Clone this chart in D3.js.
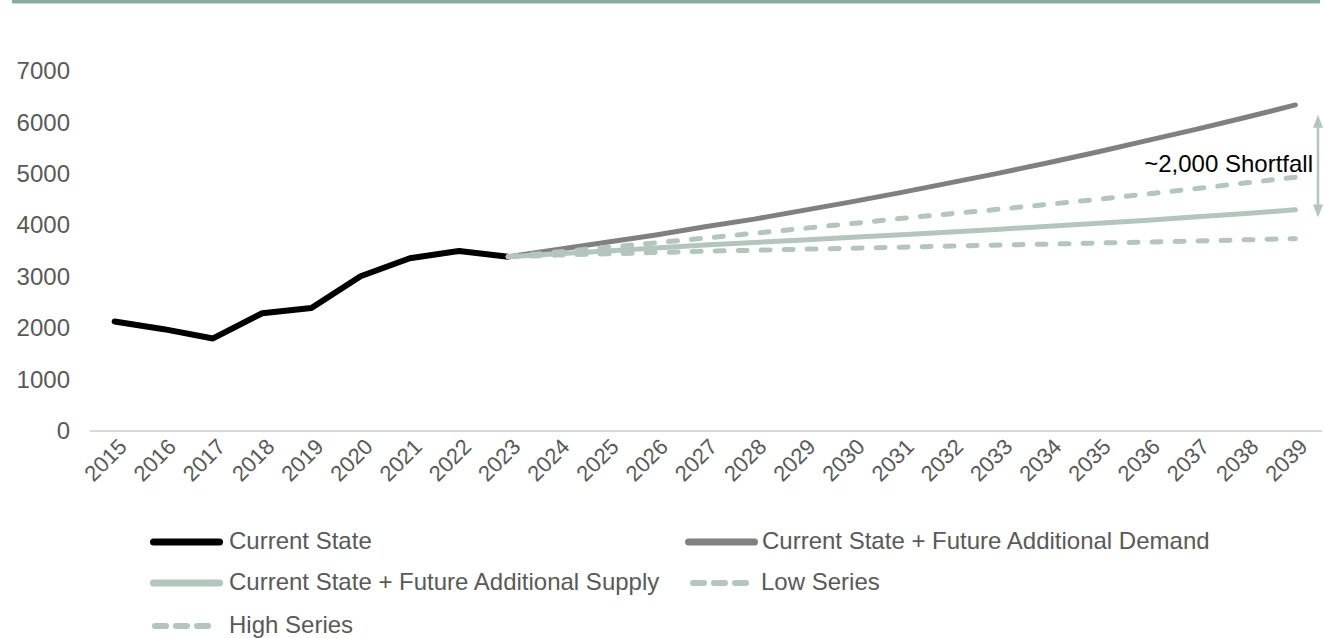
<!DOCTYPE html>
<html><head><meta charset="utf-8">
<script src="https://cdn.jsdelivr.net/npm/d3@7"></script>
<style>
html,body{margin:0;padding:0;background:#fff;}
svg{display:block;font-family:"Liberation Sans",Arial,sans-serif;}
</style></head>
<body><svg id="c" width="1324" height="638"></svg>
<script>
const years = d3.range(2015, 2040).map(String);
const yTicks = [0,1000,2000,3000,4000,5000,6000,7000];
const currentYears = ["2015","2016","2017","2018","2019","2020","2021","2022","2023"];
const currentState = [2130,1980,1800,2290,2390,3010,3360,3500,3390];
const projYears = ["2023","2024","2025","2026","2027","2028","2029","2030","2031","2032","2033","2034","2035","2036","2037","2038","2039"];
const demand = [3390,3530,3670,3810,3970,4120,4290,4460,4640,4830,5020,5220,5430,5650,5870,6100,6340];
const supply = [3390,3445,3500,3560,3615,3665,3715,3765,3815,3870,3925,3980,4040,4100,4165,4230,4300];
const highSeries = [3390,3480,3570,3660,3750,3845,3940,4035,4135,4225,4315,4410,4505,4610,4715,4825,4935];
const lowSeries = [3390,3420,3445,3470,3495,3515,3535,3555,3575,3595,3615,3635,3655,3675,3695,3718,3740];
const shortfallLabel = "~2,000 Shortfall";
const shortfallRange = [6150, 4150];

const svg = d3.select("#c");
const x = d3.scalePoint().domain(years).range([90,1320]).padding(0.5);
const y = d3.scaleLinear().domain([0,7000]).range([431,71]);
const gray = "#595959", sage = "#b3c5bd";

// top bar
svg.append("rect").attr("x",12).attr("y",0).attr("width",1308).attr("height",3).attr("fill","#8aaba3");
svg.append("rect").attr("x",12).attr("y",3).attr("width",1308).attr("height",1).attr("fill","#c9d8d3");

// y axis labels
const ya = svg.append("g").attr("transform","translate(70,0)")
  .call(d3.axisLeft(y).tickValues(yTicks).tickSize(0).tickPadding(0).tickFormat(d3.format("d")));
ya.select(".domain").remove();
ya.selectAll("text").attr("font-size",24).attr("fill",gray).attr("font-family","Liberation Sans, Arial, sans-serif");

// baseline
svg.append("line").attr("x1",90).attr("x2",1322).attr("y1",y(0)).attr("y2",y(0)).attr("stroke","#d9d9d9").attr("stroke-width",2);

// x labels
const xa = svg.append("g").attr("transform",`translate(0,${y(0)})`)
  .call(d3.axisBottom(x).tickSize(0).tickPadding(0));
xa.select(".domain").remove();
xa.selectAll("text")
  .attr("font-size",22).attr("fill",gray).attr("font-family","Liberation Sans, Arial, sans-serif")
  .attr("text-anchor","end").attr("dy",null).attr("y",null)
  .attr("transform","translate(9,13) rotate(-45)")
  .attr("dominant-baseline","middle");

const line = d3.line().x(d=>x(d[0])).y(d=>y(d[1]));
const zip = (a,b)=>a.map((v,i)=>[v,b[i]]);

svg.append("path").datum(zip(currentYears,currentState)).attr("d",line)
  .attr("fill","none").attr("stroke","#000").attr("stroke-width",6).attr("stroke-linejoin","round").attr("stroke-linecap","round");
svg.append("path").datum(zip(projYears,demand)).attr("d",line)
  .attr("fill","none").attr("stroke","#808080").attr("stroke-width",5).attr("stroke-linecap","round");
svg.append("path").datum(zip(projYears,lowSeries)).attr("d",line)
  .attr("fill","none").attr("stroke",sage).attr("stroke-width",5).attr("stroke-linecap","round").attr("stroke-dasharray","9,14");
svg.append("path").datum(zip(projYears,supply)).attr("d",line)
  .attr("fill","none").attr("stroke",sage).attr("stroke-width",5).attr("stroke-linecap","round");
svg.append("path").datum(zip(projYears,highSeries)).attr("d",line)
  .attr("fill","none").attr("stroke",sage).attr("stroke-width",5).attr("stroke-linecap","round").attr("stroke-dasharray","9,14");

// shortfall arrow
const ax = 1318, ay1 = y(shortfallRange[0]), ay2 = y(shortfallRange[1]);
svg.append("line").attr("x1",ax).attr("x2",ax).attr("y1",ay1+10).attr("y2",ay2-10).attr("stroke",sage).attr("stroke-width",2.5);
svg.append("path").attr("d",`M${ax},${ay1} L${ax-5},${ay1+13} L${ax+5},${ay1+13} Z`).attr("fill",sage);
svg.append("path").attr("d",`M${ax},${ay2} L${ax-5},${ay2-13} L${ax+5},${ay2-13} Z`).attr("fill",sage);
svg.append("text").attr("x",1313).attr("y",166).attr("text-anchor","end").attr("dominant-baseline","middle")
  .attr("font-size",24).attr("fill","#000").text(shortfallLabel);

// legend
const legendItems = [
  {label:"Current State", color:"#000", dash:null, w:7, lx:150, ly:542, len:73, tx:229},
  {label:"Current State + Future Additional Demand", color:"#808080", dash:null, w:7, lx:685, ly:542, len:73, tx:762},
  {label:"Current State + Future Additional Supply", color:sage, dash:null, w:7, lx:150, ly:583, len:73, tx:229},
  {label:"Low Series", color:sage, dash:"11,10", w:6, lx:690, ly:583, len:59, tx:761},
  {label:"High Series", color:sage, dash:"11,10", w:6, lx:152, ly:626, len:59, tx:229}
];
const lg = svg.append("g");
legendItems.forEach(d=>{
  lg.append("line").attr("x1",d.lx+d.w/2).attr("x2",d.lx+d.len-d.w/2).attr("y1",d.ly).attr("y2",d.ly)
    .attr("stroke",d.color).attr("stroke-width",d.w).attr("stroke-linecap","round")
    .attr("stroke-dasharray",d.dash);
  lg.append("text").attr("x",d.tx).attr("y",d.ly+1).attr("dominant-baseline","middle")
    .attr("font-size",24).attr("fill",gray).text(d.label);
});
</script></body></html>
